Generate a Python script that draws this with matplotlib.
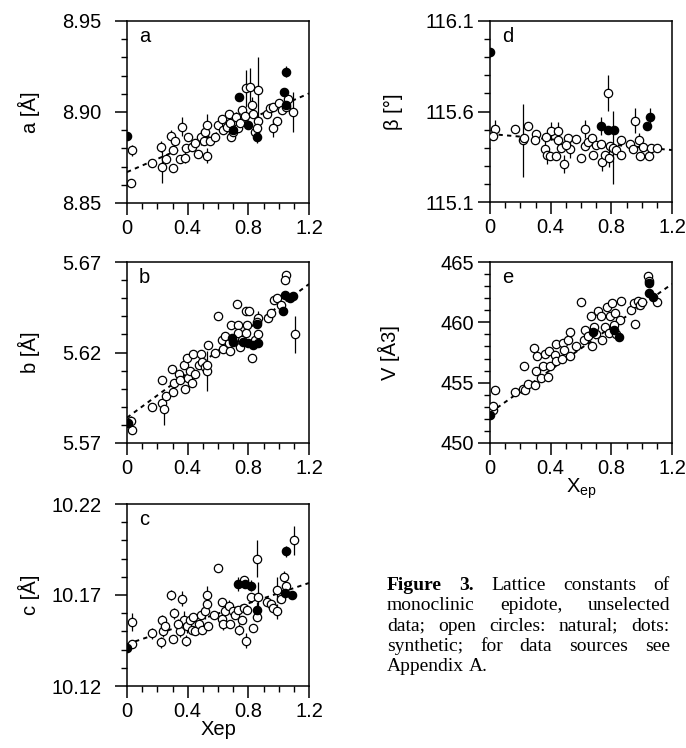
import matplotlib
matplotlib.use('Agg')
import numpy as np
import matplotlib.pyplot as plt

plt.rcParams['font.family'] = ['Liberation Sans', 'DejaVu Sans']

# ---------------- data: open circles = natural, dots = synthetic ----------------
# panel a
a_nat_x = [0.026, 0.030, 0.163, 0.224, 0.228, 0.255, 0.300, 0.290, 0.316, 0.300,
           0.365, 0.350, 0.390, 0.400, 0.380, 0.430, 0.450, 0.470, 0.488, 0.510,
           0.514, 0.525, 0.530, 0.550, 0.580, 0.600, 0.624, 0.635, 0.657, 0.672,
           0.680, 0.685, 0.700, 0.716, 0.733, 0.745, 0.760, 0.780, 0.782, 0.813,
           0.826, 0.833, 0.844, 0.861, 0.866, 0.860, 0.920, 0.943, 0.964, 0.986,
           0.964, 1.000, 1.020, 1.060, 1.046, 1.096]
a_nat_y = [8.861, 8.879, 8.872, 8.881, 8.870, 8.874, 8.869, 8.887, 8.884, 8.879,
           8.892, 8.874, 8.880, 8.886, 8.875, 8.881, 8.883, 8.877, 8.886, 8.884,
           8.889, 8.876, 8.893, 8.884, 8.886, 8.893, 8.896, 8.890, 8.892, 8.899,
           8.894, 8.886, 8.889, 8.897, 8.891, 8.894, 8.901, 8.898, 8.913, 8.914,
           8.904, 8.899, 8.889, 8.895, 8.912, 8.891, 8.899, 8.902, 8.903, 8.895,
           8.891, 8.905, 8.901, 8.907, 8.903, 8.900]
a_nat_err = [0, 0.003, 0, 0.003, 0.009, 0, 0, 0.003, 0, 0,
             0.005, 0, 0, 0, 0.003, 0, 0, 0, 0.004, 0,
             0, 0.004, 0.006, 0, 0, 0, 0, 0, 0, 0,
             0, 0, 0, 0.003, 0, 0, 0, 0, 0.010, 0.010,
             0.004, 0, 0, 0, 0.018, 0.008, 0, 0, 0, 0,
             0.005, 0, 0, 0, 0, 0.011]
a_syn_x = [0.000, 0.700, 0.736, 0.798, 0.860, 1.035, 1.050, 1.050]
a_syn_y = [8.887, 8.890, 8.908, 8.893, 8.886, 8.911, 8.904, 8.922]
a_syn_err = [0, 0, 0, 0, 0, 0, 0, 0.003]
a_fit = [8.867, 0.036]

# panel b
b_nat_x = [0.026, 0.030, 0.163, 0.228, 0.233, 0.246, 0.260, 0.305, 0.310, 0.295,
           0.340, 0.350, 0.380, 0.378, 0.393, 0.404, 0.415, 0.437, 0.450, 0.426,
           0.475, 0.488, 0.497, 0.514, 0.525, 0.530, 0.536, 0.580, 0.600, 0.624,
           0.635, 0.672, 0.680, 0.646, 0.685, 0.727, 0.733, 0.745, 0.733, 0.756,
           0.782, 0.790, 0.782, 0.807, 0.826, 0.844, 0.861, 0.866, 0.860, 0.932,
           0.950, 0.966, 0.986, 1.015, 1.048, 1.044, 1.107]
b_nat_y = [5.582, 5.577, 5.590, 5.605, 5.592, 5.589, 5.596, 5.598, 5.603, 5.611,
           5.608, 5.605, 5.600, 5.613, 5.617, 5.606, 5.610, 5.619, 5.608, 5.603,
           5.613, 5.619, 5.615, 5.612, 5.610, 5.613, 5.624, 5.620, 5.640, 5.627,
           5.622, 5.625, 5.621, 5.629, 5.635, 5.647, 5.635, 5.623, 5.631, 5.627,
           5.643, 5.635, 5.631, 5.643, 5.617, 5.627, 5.639, 5.630, 5.637, 5.639,
           5.642, 5.649, 5.650, 5.646, 5.663, 5.660, 5.630]
b_nat_err = [0.003, 0, 0, 0, 0, 0.009, 0, 0, 0, 0,
             0, 0, 0, 0, 0, 0, 0, 0, 0, 0,
             0, 0, 0, 0, 0.011, 0, 0, 0, 0, 0,
             0, 0, 0, 0, 0, 0, 0, 0, 0, 0,
             0, 0, 0, 0, 0, 0, 0.004, 0, 0, 0,
             0, 0, 0, 0, 0, 0, 0.010]
b_syn_x = [0.008, 0.690, 0.700, 0.767, 0.800, 0.830, 0.861, 0.855, 1.040, 1.074, 1.096, 1.030]
b_syn_y = [5.581, 5.628, 5.626, 5.626, 5.625, 5.624, 5.625, 5.636, 5.652, 5.650, 5.651, 5.643]
b_syn_err = [0] * 12
b_fit = [5.584, 0.0615]

# panel c
c_nat_x = [0.030, 0.030, 0.163, 0.224, 0.228, 0.240, 0.250, 0.290, 0.306, 0.310,
           0.350, 0.365, 0.378, 0.387, 0.393, 0.338, 0.415, 0.426, 0.437, 0.450,
           0.475, 0.488, 0.497, 0.514, 0.525, 0.530, 0.536, 0.575, 0.600, 0.624,
           0.628, 0.635, 0.646, 0.672, 0.680, 0.700, 0.712, 0.733, 0.740, 0.756,
           0.773, 0.782, 0.773, 0.790, 0.817, 0.833, 0.860, 0.860, 0.866, 0.920,
           0.950, 0.964, 0.986, 0.986, 1.015, 1.037, 1.046, 1.100]
c_nat_y = [10.143, 10.155, 10.149, 10.144, 10.156, 10.150, 10.153, 10.170, 10.146, 10.160,
           10.150, 10.168, 10.156, 10.145, 10.153, 10.154, 10.156, 10.151, 10.158, 10.150,
           10.154, 10.159, 10.151, 10.161, 10.165, 10.170, 10.153, 10.159, 10.185, 10.166,
           10.157, 10.154, 10.161, 10.164, 10.154, 10.161, 10.159, 10.162, 10.151, 10.156,
           10.178, 10.145, 10.163, 10.162, 10.169, 10.152, 10.190, 10.158, 10.169, 10.166,
           10.165, 10.163, 10.161, 10.173, 10.168, 10.180, 10.175, 10.200]
c_nat_err = [0, 0.005, 0.003, 0.003, 0.003, 0.003, 0, 0.003, 0, 0.003,
             0.003, 0.004, 0.005, 0.003, 0.004, 0.003, 0, 0, 0, 0,
             0, 0, 0, 0.004, 0.004, 0.005, 0, 0, 0, 0,
             0.003, 0.003, 0, 0.003, 0, 0, 0, 0, 0.003, 0,
             0, 0.004, 0, 0, 0, 0, 0.010, 0, 0.008, 0,
             0, 0, 0.004, 0.007, 0, 0.003, 0, 0.008]
c_syn_x = [0.000, 0.733, 0.778, 0.820, 0.855, 1.050, 1.040, 1.085]
c_syn_y = [10.141, 10.176, 10.176, 10.175, 10.162, 10.194, 10.171, 10.170]
c_syn_err = [0, 0.004, 0, 0.003, 0.004, 0.003, 0, 0]
c_fit = [10.143, 0.028]

# panel d
d_nat_x = [0.030, 0.020, 0.163, 0.215, 0.224, 0.250, 0.306, 0.295, 0.360, 0.378,
           0.393, 0.400, 0.370, 0.437, 0.450, 0.450, 0.470, 0.488, 0.514, 0.525,
           0.500, 0.570, 0.600, 0.624, 0.628, 0.646, 0.680, 0.672, 0.700, 0.730,
           0.740, 0.756, 0.778, 0.782, 0.790, 0.810, 0.833, 0.861, 0.861, 0.920,
           0.953, 0.942, 0.980, 0.986, 1.010, 1.046, 1.060, 1.100]
d_nat_y = [115.502, 115.462, 115.502, 115.440, 115.453, 115.519, 115.475, 115.442, 115.391, 115.360,
           115.354, 115.494, 115.461, 115.354, 115.442, 115.494, 115.396, 115.311, 115.453, 115.391,
           115.415, 115.448, 115.341, 115.502, 115.410, 115.434, 115.360, 115.453, 115.415, 115.420,
           115.323, 115.360, 115.700, 115.341, 115.410, 115.400, 115.388, 115.360, 115.440, 115.420,
           115.549, 115.391, 115.440, 115.352, 115.403, 115.352, 115.398, 115.398]
d_nat_err = [0.05, 0, 0, 0.2, 0, 0, 0, 0, 0.05, 0.05,
             0, 0.05, 0, 0, 0.05, 0.05, 0, 0.05, 0, 0.05,
             0, 0, 0, 0.05, 0, 0, 0, 0, 0, 0,
             0.05, 0, 0.1, 0.05, 0, 0.2, 0, 0, 0, 0,
             0.07, 0, 0.04, 0, 0, 0, 0, 0]
d_syn_x = [0.000, 0.733, 0.778, 0.820, 1.053, 1.037]
d_syn_y = [115.927, 115.519, 115.500, 115.497, 115.568, 115.519]
d_syn_err = [0, 0.05, 0, 0, 0.05, 0]
d_fit = [115.476, -0.074]

# panel e
e_nat_x = [0.020, 0.020, 0.030, 0.163, 0.220, 0.233, 0.224, 0.250, 0.295, 0.306,
           0.290, 0.310, 0.338, 0.350, 0.365, 0.380, 0.390, 0.393, 0.426, 0.437,
           0.437, 0.475, 0.480, 0.490, 0.514, 0.525, 0.525, 0.570, 0.600, 0.620,
           0.624, 0.646, 0.672, 0.668, 0.685, 0.700, 0.712, 0.733, 0.740, 0.756,
           0.773, 0.782, 0.790, 0.805, 0.822, 0.833, 0.855, 0.861, 0.820, 0.932,
           0.950, 0.953, 0.975, 0.990, 1.000, 1.040, 1.046, 1.100]
e_nat_y = [452.7, 453.1, 454.4, 454.2, 454.5, 454.4, 456.4, 454.9, 454.8, 456.0,
           457.9, 457.2, 455.4, 456.4, 457.4, 455.5, 457.6, 456.4, 457.3, 456.8,
           458.2, 457.0, 458.3, 457.7, 458.5, 459.2, 457.2, 458.0, 461.7, 458.5,
           459.4, 458.9, 458.0, 460.5, 459.6, 459.0, 460.9, 460.5, 458.5, 459.6,
           461.3, 459.1, 460.5, 461.6, 460.8, 459.0, 460.2, 461.8, 459.8, 461.0,
           461.6, 459.9, 461.8, 461.4, 461.7, 463.8, 463.4, 461.7]
e_nat_err = [0] * 58
e_syn_x = [0.000, 0.680, 0.818, 0.848, 1.046, 1.074, 1.050]
e_syn_y = [452.3, 459.2, 459.4, 458.8, 462.4, 462.1, 463.3]
e_syn_err = [0] * 7
e_fit = [452.5, 8.9]

x_ticks = [0, 0.4, 0.8, 1.2]
x_ticklabels = ['0', '0.4', '0.8', '1.2']

caption = [
    [("Figure", True), ("3.", True), ("Lattice", False), ("constants", False), ("of", False)],
    [("monoclinic", False), ("epidote,", False), ("unselected", False)],
    [("data;", False), ("open", False), ("circles:", False), ("natural;", False), ("dots:", False)],
    [("synthetic;", False), ("for", False), ("data", False), ("sources", False), ("see", False)],
    [("Appendix", False), ("A.", False)],
]

W, H = 686, 748
FS = 14.5
fig = plt.figure(figsize=(W / 100, H / 100), dpi=100)


def panel(rect, nat_x, nat_y, nat_err, syn_x, syn_y, syn_err, fit,
          yticks, yminor, ylabel, letter, yfmt, ypad):
    l, t, r, b = rect
    ax = fig.add_axes([l / W, 1 - b / H, (r - l) / W, (b - t) / H])
    # error bars
    ax.errorbar(nat_x, nat_y, yerr=nat_err, fmt='none', ecolor='black',
                elinewidth=0.9, capsize=0, zorder=1)
    ax.errorbar(syn_x, syn_y, yerr=syn_err, fmt='none', ecolor='black',
                elinewidth=0.9, capsize=0, zorder=1)
    # trend line
    xs = [0, 1.2]
    ax.plot(xs, [fit[0] + fit[1] * v for v in xs], color='black', lw=1.4,
            linestyle=(0, (2.2, 2.2)), zorder=2)
    ax.plot(nat_x, nat_y, 'o', ms=6, mfc='white', mec='black', mew=0.9, zorder=3)
    ax.plot(syn_x, syn_y, 'o', ms=6, mfc='black', mec='black', mew=0.9, zorder=4)

    ax.set_xlim(0, 1.2)
    ax.set_ylim(yticks[0], yticks[-1])
    ax.set_xticks(x_ticks)
    ax.set_xticklabels(x_ticklabels)
    ax.set_xticks(np.arange(0, 1.21, 0.1), minor=True)
    ax.set_yticks(yticks)
    ax.set_yticklabels([yfmt % v for v in yticks])
    n = int(round((yticks[-1] - yticks[0]) / yminor))
    ax.set_yticks([yticks[0] + k * yminor for k in range(n + 1)], minor=True)
    ax.tick_params(which='major', direction='out', length=8.5, width=1.1,
                   labelsize=FS)
    ax.tick_params(axis='x', which='major', pad=3)
    ax.tick_params(axis='y', which='major', pad=ypad)
    ax.tick_params(which='minor', direction='out', length=4.2, width=1.0)
    for s in ax.spines.values():
        s.set_linewidth(1.1)
    ax.set_ylabel(ylabel, fontsize=FS)
    ax.yaxis.set_label_coords(-0.478, 0.5)
    ax.text(0.066, 0.965, letter, transform=ax.transAxes, fontsize=FS,
            ha='left', va='top')
    return ax


ax_a = panel((127, 21, 309, 203), a_nat_x, a_nat_y, a_nat_err, a_syn_x, a_syn_y, a_syn_err,
             a_fit, [8.85, 8.90, 8.95], 0.01, 'a [Å]', 'a', '%.2f', 10)
ax_b = panel((127, 262, 309, 443), b_nat_x, b_nat_y, b_nat_err, b_syn_x, b_syn_y, b_syn_err,
             b_fit, [5.57, 5.62, 5.67], 0.01, 'b [Å]', 'b', '%.2f', 10)
ax_c = panel((127, 504, 309, 686), c_nat_x, c_nat_y, c_nat_err, c_syn_x, c_syn_y, c_syn_err,
             c_fit, [10.12, 10.17, 10.22], 0.01, 'c [Å]', 'c', '%.2f', 10)
ax_d = panel((490, 21, 672, 202), d_nat_x, d_nat_y, d_nat_err, d_syn_x, d_syn_y, d_syn_err,
             d_fit, [115.1, 115.6, 116.1], 0.1, 'β [°]', 'd', '%.1f', 3)
ax_e = panel((490, 262, 672, 443), e_nat_x, e_nat_y, e_nat_err, e_syn_x, e_syn_y, e_syn_err,
             e_fit, [450, 455, 460, 465], 1, 'V [Å3]', 'e', '%d', 3)
ax_e.yaxis.set_label_coords(-0.495, 0.5)
ax_c.set_xlabel('Xep', fontsize=FS, labelpad=-1)
ax_e.set_xlabel('X$_{\\mathregular{ep}}$', fontsize=FS, labelpad=-1)

# justified caption
renderer = fig.canvas.get_renderer()
x0, x1 = 387, 670
base0, dy = 590, 20.3
for i, line in enumerate(caption):
    texts = []
    for word, bold in line:
        t = fig.text(0, 0, word, fontsize=14, family='Liberation Serif',
                     fontweight='bold' if bold else 'normal', va='baseline', ha='left')
        texts.append(t)
    widths = [t.get_window_extent(renderer).width for t in texts]
    if i < len(caption) - 1:
        gap = (x1 - x0 - sum(widths)) / (len(texts) - 1)
    else:
        gap = 5
    x = x0
    y = 1 - (base0 + i * dy) / H
    for t, w in zip(texts, widths):
        t.set_position((x / W, y))
        x += w + gap

fig.savefig('out.png', dpi=100)
